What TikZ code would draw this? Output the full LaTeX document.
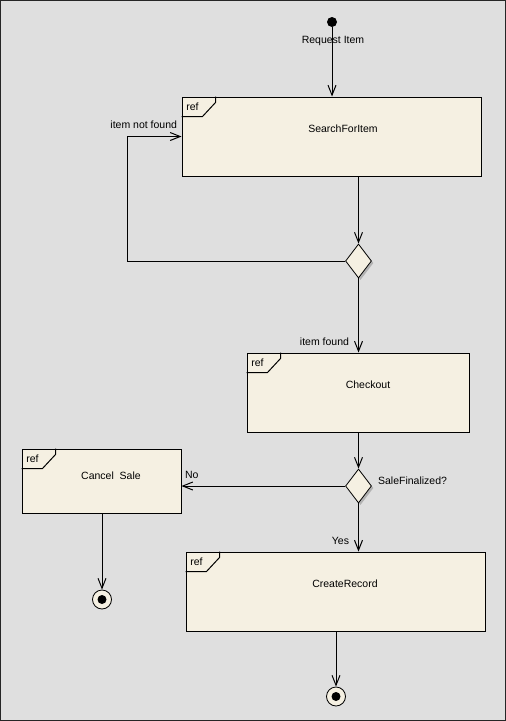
\documentclass[tikz,border=0pt]{standalone}
\usepackage{fontspec}
\setmainfont{Liberation Sans}
\usetikzlibrary{arrows.meta,shapes.geometric,shadows,calc}
\definecolor{boxfill}{HTML}{F5F0E2}
\definecolor{canvas}{HTML}{DFDFDF}
\tikzstyle{refbox}=[rectangle, fill=boxfill, draw=black, line width=1pt, inner sep=0pt, anchor=center]
\tikzstyle{annot}=[align=center, inner sep=1pt, font=\fontsize{10.5}{12}\selectfont]
\tikzstyle{decision}=[diamond, fill=boxfill, draw=black, line width=0.8pt, inner sep=0pt, minimum width=26pt, minimum height=34pt, drop shadow={shadow xshift=2pt, shadow yshift=-2pt, fill=black!30, opacity=1}]
\tikzstyle{flow}=[line width=1pt, -{Straight Barb[length=10pt, width=8pt]}]
\tikzstyle{finalring}=[circle, fill=boxfill, draw=black, line width=0.8pt, minimum size=19pt, inner sep=0pt]
\tikzstyle{dot}=[circle, fill=black, minimum size=10pt, inner sep=0pt]
\newcommand{\reftag}[1]
{
  \draw[line width=1pt] ($(#1.north west)+(0,20)$) -- ++(21,0) -- ++(13,-14) -- ++(0,-6);
  \node[annot] at ($(#1.north west)+(11,10)$) {ref};
}

\begin{document}
\begin{tikzpicture}[x=1pt, y=-1pt]
	\useasboundingbox (0,0) rectangle (506,721);
	\draw[fill=canvas, draw=black!85, line width=1.3pt] (0.65,0.65) rectangle (505.35,720.35);

	\node[dot] (start) at (332,22){};
	\node[refbox, minimum width=299pt, minimum height=79pt](search) at (331.5,136.5){};
	\node[decision](dec1) at (358.5,261){};
	\node[refbox, minimum width=222pt, minimum height=79pt](checkout) at (358,392.5){};
	\node[decision](dec2) at (358.5,486){};
	\node[refbox, minimum width=159pt, minimum height=64pt](cancel) at (101.5,481){};
	\node[refbox, minimum width=299pt, minimum height=79pt](create) at (335.5,591.5){};
	\node[finalring](end1) at (102,599.5){};
	\node[dot, minimum size=9pt] at (end1){};
	\node[finalring](end2) at (336,696.5){};
	\node[dot, minimum size=9pt] at (end2){};

	\reftag{search}
	\reftag{checkout}
	\reftag{cancel}
	\reftag{create}

	\node[annot] at (343,129) {SearchForItem};
	\node[annot] at (368,385) {Checkout};
	\node[annot] at (111,476) {Cancel\ \ Sale};
	\node[annot] at (345,584) {CreateRecord};

	\draw[flow] (start) -- (start |- search.north);
	\node[annot] at (333,41) {Request Item};
	\draw[flow] (dec1 |- search.south) -- (dec1.north);
	\draw[flow] (dec1.west) -- ++(-218,0) |- (search.west) node[annot, anchor=south east, xshift=-3pt, yshift=6pt] {item not found};
	\draw[flow] (dec1.south) -- (dec1 |- checkout.north) node[annot, anchor=south east, xshift=-8pt, yshift=5pt] {item found};
	\draw[flow] (dec2 |- checkout.south) -- (dec2.north);
	\draw[flow] (dec2.west) -- (dec2.west -| cancel.east) node[annot, anchor=south west, xshift=2pt, yshift=6pt] {No};
	\node[annot, anchor=west] (salefinal) at ($(dec2.east)+(5,-5)$) {SaleFinalized?};
	\draw[flow] (dec2.south) -- (dec2 |- create.north) node[annot, anchor=south east, xshift=-8pt, yshift=5pt] {Yes};
	\draw[flow] (cancel.south -| end1) -- (end1.north);
	\draw[flow] (create.south -| end2) -- (end2.north);

\end{tikzpicture}
\end{document}
